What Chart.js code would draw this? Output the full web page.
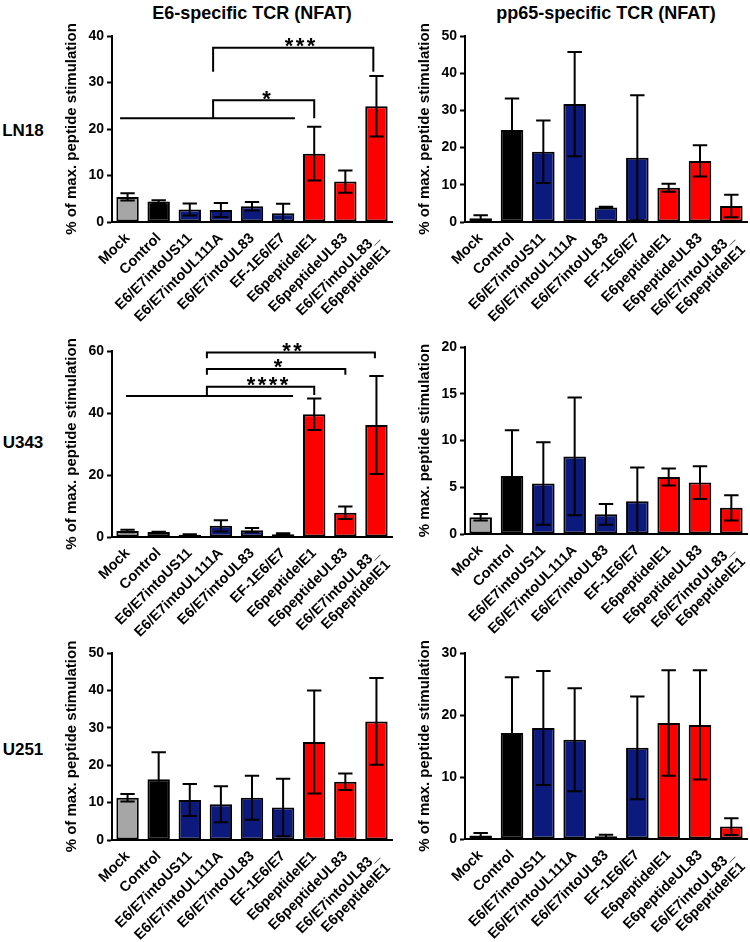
<!DOCTYPE html>
<html><head><meta charset="utf-8">
<script src="https://cdn.jsdelivr.net/npm/chart.js@4.4.1/dist/chart.umd.min.js"></script>
<style>
html,body{margin:0;padding:0;background:#fff;width:750px;height:942px;overflow:hidden;position:relative;font-family:"Liberation Sans",Arial,sans-serif;}
canvas{position:absolute;}
.lbl{position:absolute;font-weight:bold;color:#000;white-space:nowrap;transform:translate(-50%,-50%);}
</style></head><body>
<div class="lbl" style="left:252px;top:13px;font-size:18px;">E6-specific TCR (NFAT)</div>
<div class="lbl" style="left:606px;top:13px;font-size:18px;">pp65-specific TCR (NFAT)</div>
<div class="lbl" style="left:23px;top:131px;font-size:17px;">LN18</div>
<div class="lbl" style="left:23px;top:443px;font-size:17px;">U343</div>
<div class="lbl" style="left:23px;top:750px;font-size:17px;">U251</div>
<canvas id="c1" width="412" height="330" style="left:0;top:0"></canvas>
<canvas id="c2" width="392" height="330" style="left:375px;top:0"></canvas>
<canvas id="c3" width="412" height="309" style="left:0;top:331px"></canvas>
<canvas id="c4" width="392" height="309" style="left:375px;top:331px"></canvas>
<canvas id="c5" width="412" height="302" style="left:0;top:640px"></canvas>
<canvas id="c6" width="392" height="302" style="left:375px;top:640px"></canvas>
<script>
// ---------- data ----------
const categories = ['Mock','Control','E6/E7intoUS11','E6/E7intoUL111A','E6/E7intoUL83','EF-1E6/E7','E6peptideIE1','E6peptideUL83',['E6/E7intoUL83_','E6peptideIE1']];
const barColors = ['#a6a6a6','#000000','#0c1a7d','#0c1a7d','#0c1a7d','#0c1a7d','#ff0000','#ff0000','#ff0000'];

const ln18E6Mean   = [5.4, 4.4, 2.7, 2.6, 3.4, 1.9, 14.7, 8.7, 24.9];
const ln18E6Sd     = [0.8, 0.3, 1.3, 1.5, 0.9, 2.0, 5.8, 2.4, 6.5];
const ln18Pp65Mean = [1.0, 24.7, 18.9, 31.7, 3.9, 17.3, 9.2, 16.4, 4.3];
const ln18Pp65Sd   = [0.8, 8.5, 8.4, 14.0, 0.2, 16.8, 1.1, 4.2, 3.0];
const u343E6Mean   = [1.9, 1.6, 0.75, 3.6, 2.2, 0.9, 39.6, 7.8, 36.1];
const u343E6Sd     = [0.4, 0.1, 0.1, 1.8, 0.7, 0.3, 5.1, 2.0, 15.8];
const u343Pp65Mean = [1.8, 6.2, 5.4, 8.3, 2.1, 3.5, 6.1, 5.5, 2.8];
const u343Pp65Sd   = [0.35, 4.9, 4.4, 6.3, 1.1, 3.6, 0.9, 1.75, 1.35];
const u251E6Mean   = [11.3, 16.25, 10.7, 9.55, 11.3, 8.7, 26.2, 15.6, 31.7];
const u251E6Sd     = [1.0, 7.2, 4.3, 4.8, 5.9, 7.7, 13.8, 2.2, 11.6];
const u251Pp65Mean = [0.55, 17.1, 17.9, 16.0, 0.43, 14.7, 18.7, 18.4, 2.0];
const u251Pp65Sd   = [0.4, 9.0, 9.2, 8.3, 0.25, 8.3, 8.5, 8.8, 1.35];

const yTitleFull  = '% of max. peptide stimulation';
const yTitleShort = '% max. peptide stimulation';

// significance annotations (category index / value coordinates)
const ln18E6Group = {x1: -0.24, x2: 5.38, y: 22.3};
const ln18E6Sig = [
  {x1: 2.75, x2: 6, y: 26.2, lo1: 22.3, lo2: 22.3, text: '*', tx: 4.47},
  {x1: 2.75, x2: 7.9, y: 37.5, lo1: 32.3, lo2: 32.3, text: '***', tx: 5.54}
];
const u343E6Group = {x1: -0.05, x2: 5.32, y: 45.5};
const u343E6Sig = [
  {x1: 2.55, x2: 6, y: 48.5, lo1: 45.5, lo2: 45.8, text: '****', tx: 4.5},
  {x1: 2.55, x2: 7, y: 54.2, lo1: 52.3, lo2: 52.3, text: '*', tx: 4.84},
  {x1: 2.55, x2: 7.95, y: 59.5, lo1: 57.7, lo2: 57.7, text: '**', tx: 5.29}
];

// ---------- plugins ----------
const FONT = '"Liberation Sans", Arial, sans-serif';
const errorBarPlugin = {
  id: 'errorBars',
  afterDatasetsDraw(chart, args, opts) {
    const errs = opts.errors; if (!errs) return;
    const ctx = chart.ctx, meta = chart.getDatasetMeta(0), ys = chart.scales.y;
    const vals = chart.data.datasets[0].data;
    ctx.save(); ctx.strokeStyle = '#000'; ctx.lineWidth = 2;
    meta.data.forEach((bar, i) => {
      const v = vals[i], e = errs[i];
      const yHi = ys.getPixelForValue(v + e), yLo = ys.getPixelForValue(Math.max(0, v - e));
      const half = bar.width * 0.32;
      ctx.beginPath();
      ctx.moveTo(bar.x, yHi); ctx.lineTo(bar.x, yLo);
      ctx.moveTo(bar.x - half, yHi); ctx.lineTo(bar.x + half, yHi);
      ctx.moveTo(bar.x - half, yLo); ctx.lineTo(bar.x + half, yLo);
      ctx.stroke();
    });
    ctx.restore();
  }
};
const sigPlugin = {
  id: 'sig',
  afterDraw(chart, args, opts) {
    if (!opts.group) return;
    const ctx = chart.ctx, xs = chart.scales.x, ys = chart.scales.y;
    const X = v => xs.getPixelForValue(v), Y = v => ys.getPixelForValue(v);
    ctx.save(); ctx.strokeStyle = '#000'; ctx.fillStyle = '#000'; ctx.lineWidth = 2;
    const g = opts.group;
    ctx.beginPath(); ctx.moveTo(X(g.x1), Y(g.y)); ctx.lineTo(X(g.x2), Y(g.y)); ctx.stroke();
    ctx.font = 'bold 22px ' + FONT; ctx.textAlign = 'center'; ctx.textBaseline = 'alphabetic';
    opts.brackets.forEach(b => {
      ctx.beginPath();
      ctx.moveTo(X(b.x1), Y(b.lo1)); ctx.lineTo(X(b.x1), Y(b.y));
      ctx.lineTo(X(b.x2), Y(b.y)); ctx.lineTo(X(b.x2), Y(b.lo2));
      ctx.stroke();
      const n = b.text.length, cx = X(b.tx), ty = Y(b.y) + 5.5;
      for (let i = 0; i < n; i++) ctx.fillText('*', cx + (i - (n - 1) / 2) * 11, ty);
    });
    ctx.restore();
  }
};

function makeChart(id, means, sds, yMax, yStep, yTitle, pad, xH, sig) {
  return new Chart(document.getElementById(id), {
    type: 'bar',
    data: {labels: categories, datasets: [{
      data: means, backgroundColor: barColors, borderColor: '#000', borderWidth: 2,
      borderSkipped: false, barPercentage: 0.72, categoryPercentage: 1.0
    }]},
    plugins: [errorBarPlugin, sigPlugin],
    options: {
      responsive: false, animation: false, devicePixelRatio: 1,
      layout: {padding: pad},
      plugins: {legend: {display: false}, tooltip: {enabled: false},
        errorBars: {errors: sds},
        sig: sig || {}},
      scales: {
        x: {
          offset: true,
          grid: {display: false, drawTicks: true, tickLength: 5},
          border: {display: true, color: '#000', width: 2, z: 1},
          ticks: {color: '#000', font: {family: FONT, size: 14.5, weight: 'bold', lineHeight: 1.15}, maxRotation: 45, minRotation: 45, autoSkip: false, padding: 3},
          afterFit: s => { s.height = xH; }
        },
        y: {
          min: 0, max: yMax,
          grid: {drawOnChartArea: false, drawTicks: true, tickLength: 5, tickColor: '#000', tickWidth: 2},
          border: {display: true, color: '#000', width: 2, z: 1},
          ticks: {stepSize: yStep, color: '#000', font: {family: FONT, size: 14, weight: 'bold'}, padding: 3},
          title: {display: true, text: yTitle, color: '#000', font: {family: FONT, size: 15, weight: 'bold'}, padding: {top: 4, bottom: 0}},
          afterFit: s => { s.width = 53; }
        }
      }
    }
  });
}

makeChart('c1', ln18E6Mean, ln18E6Sd, 40, 10, yTitleFull, {left: 59, right: 20, top: 36, bottom: 0}, 108, {group: ln18E6Group, brackets: ln18E6Sig});
makeChart('c2', ln18Pp65Mean, ln18Pp65Sd, 50, 10, yTitleFull, {left: 37, right: 20, top: 36, bottom: 0}, 108);
makeChart('c3', u343E6Mean, u343E6Sd, 60, 20, yTitleFull, {left: 59, right: 20, top: 20, bottom: 0}, 103, {group: u343E6Group, brackets: u343E6Sig});
makeChart('c4', u343Pp65Mean, u343Pp65Sd, 20, 5, yTitleShort, {left: 37, right: 20, top: 16, bottom: 0}, 106);
makeChart('c5', u251E6Mean, u251E6Sd, 50, 10, yTitleFull, {left: 59, right: 20, top: 13, bottom: 0}, 102);
makeChart('c6', u251Pp65Mean, u251Pp65Sd, 30, 10, yTitleFull, {left: 37, right: 20, top: 13, bottom: 0}, 103);
</script>
</body></html>
